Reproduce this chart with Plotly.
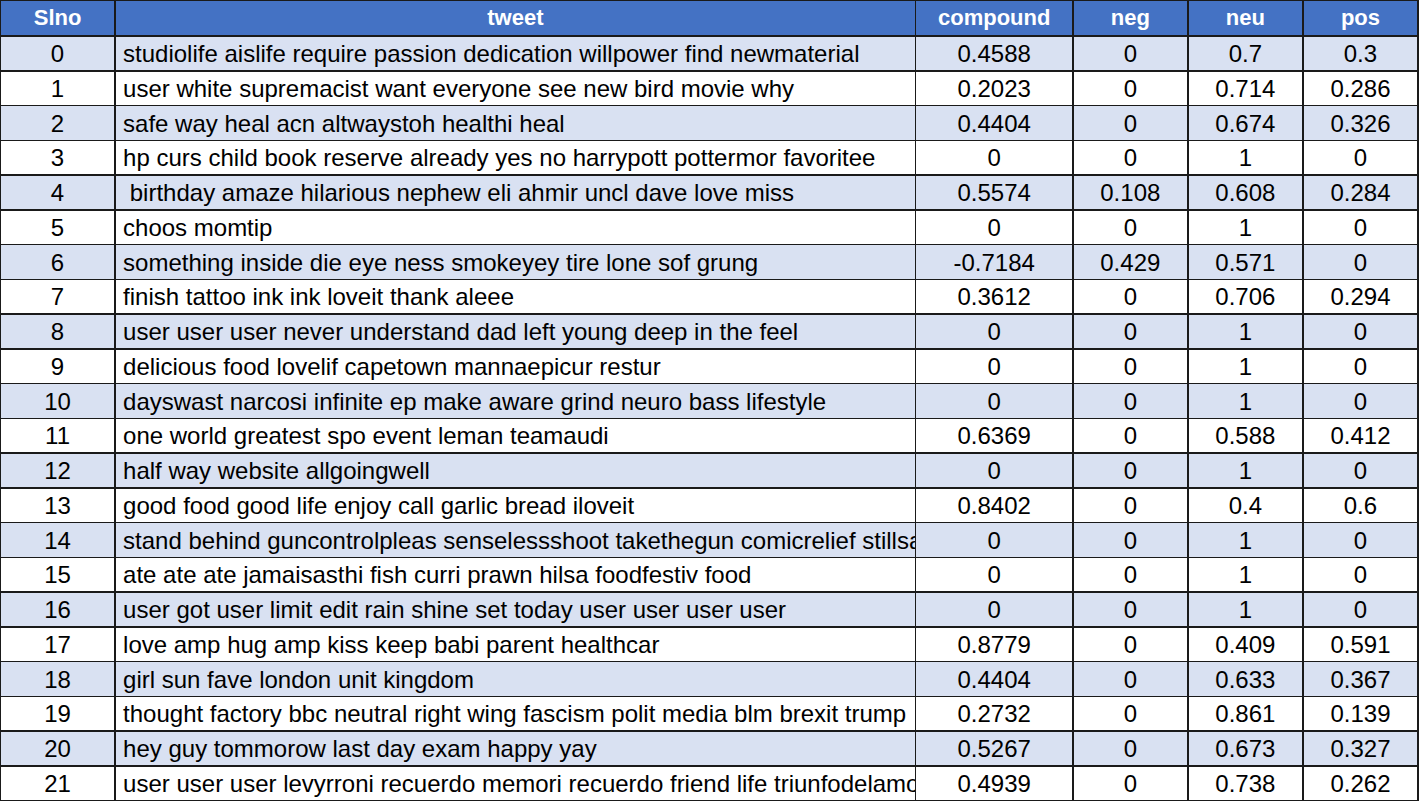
import plotly.graph_objects as go

slno = list(range(22))
tweets = [
    "studiolife aislife require passion dedication willpower find newmaterial",
    "user white supremacist want everyone see new bird movie why",
    "safe way heal acn altwaystoh healthi heal",
    "hp curs child book reserve already yes no harrypott pottermor favoritee",
    " birthday amaze hilarious nephew eli ahmir uncl dave love miss",
    "choos momtip",
    "something inside die eye ness smokeyey tire lone sof grung",
    "finish tattoo ink ink loveit thank aleee",
    "user user user never understand dad left young deep in the feel",
    "delicious food lovelif capetown mannaepicur restur",
    "dayswast narcosi infinite ep make aware grind neuro bass lifestyle",
    "one world greatest spo event leman teamaudi",
    "half way website allgoingwell",
    "good food good life enjoy call garlic bread iloveit",
    "stand behind guncontrolpleas senselessshoot takethegun comicrelief stillsa",
    "ate ate ate jamaisasthi fish curri prawn hilsa foodfestiv food",
    "user got user limit edit rain shine set today user user user user",
    "love amp hug amp kiss keep babi parent healthcar",
    "girl sun fave london unit kingdom",
    "thought factory bbc neutral right wing fascism polit media blm brexit trump",
    "hey guy tommorow last day exam happy yay",
    "user user user levyrroni recuerdo memori recuerdo friend life triunfodelamo",
]
compound = ["0.4588", "0.2023", "0.4404", "0", "0.5574", "0", "-0.7184", "0.3612", "0", "0", "0",
            "0.6369", "0", "0.8402", "0", "0", "0", "0.8779", "0.4404", "0.2732", "0.5267", "0.4939"]
neg = ["0", "0", "0", "0", "0.108", "0", "0.429", "0", "0", "0", "0",
       "0", "0", "0", "0", "0", "0", "0", "0", "0", "0", "0"]
neu = ["0.7", "0.714", "0.674", "1", "0.608", "1", "0.571", "0.706", "1", "1", "1",
       "0.588", "1", "0.4", "1", "1", "1", "0.409", "0.633", "0.861", "0.673", "0.738"]
pos = ["0.3", "0.286", "0.326", "0", "0.284", "0", "0", "0.294", "0", "0", "0",
       "0.412", "0", "0.6", "0", "0", "0", "0.591", "0.367", "0.139", "0.327", "0.262"]
headers = ["Slno", "tweet", "compound", "neg", "neu", "pos"]

row_colors = ["#D9E1F2" if i % 2 == 0 else "#FFFFFF" for i in slno]
# non-breaking spaces keep each tweet on one line (clipped at the cell edge, as in the reference)
tweet_cells = [t.replace(" ", "\u00a0") for t in tweets]

fig = go.Figure(go.Table(
    columnwidth=[115, 800, 157, 115, 115, 115],
    header=dict(
        values=headers,
        fill_color="#4472C4",
        line=dict(color="#1a1a1a", width=1.5),
        align="center",
        font=dict(family="Liberation Sans, Arial, sans-serif", size=22, color="white", weight=700),
        height=36,
    ),
    cells=dict(
        values=[[str(s) for s in slno], tweet_cells, compound, neg, neu, pos],
        fill_color=[row_colors] * 6,
        line=dict(color="#1a1a1a", width=1.5),
        align=["center", "left", "center", "center", "center", "center"],
        font=dict(family="Liberation Sans, Arial, sans-serif", size=24, color="black"),
        height=34.75,
    ),
    domain=dict(x=[0, 1], y=[0, 1]),
))
fig.update_layout(width=1419, height=803, margin=dict(l=0, r=1, t=0, b=0),
                  paper_bgcolor="white")
fig.write_html("out.html", config={"displayModeBar": False},
               post_script="document.body.style.margin='0px';")
